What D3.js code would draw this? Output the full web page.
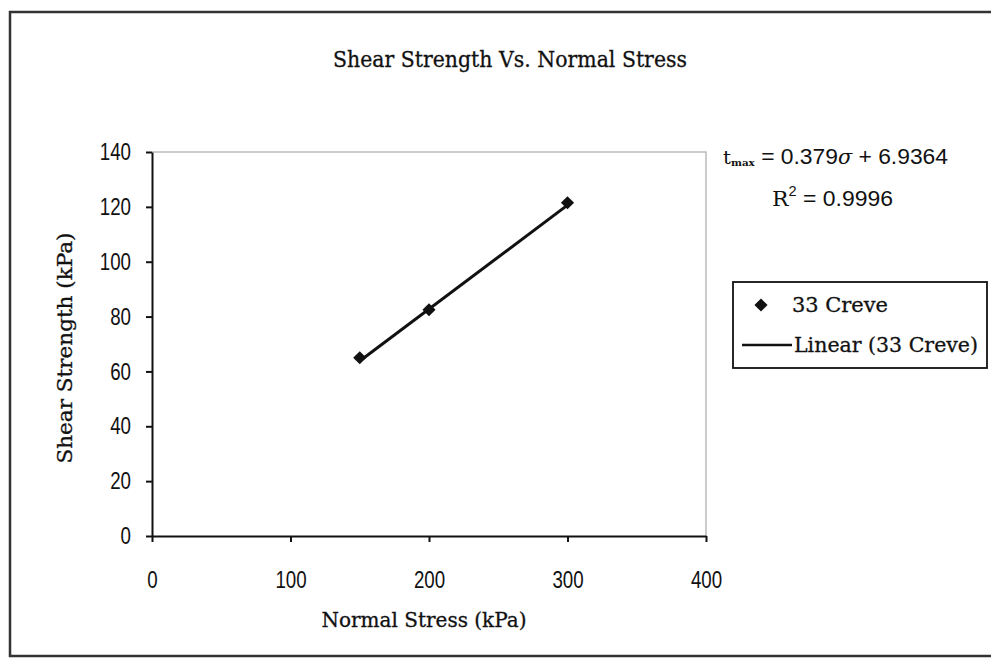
<!DOCTYPE html>
<html><head><meta charset="utf-8">
<script src="https://cdn.jsdelivr.net/npm/d3@7"></script>
<style>
body{margin:0;background:#fff;}
svg{display:block;}
.num{font-family:"Liberation Sans","DejaVu Sans",sans-serif;}
.ser{font-family:"DejaVu Serif","Liberation Serif",serif;}
</style></head>
<body>
<script>
const normalStress = [150, 200, 300];
const shearStrength = [65, 82.5, 121.5];
const xTicks = [0, 100, 200, 300, 400];
const yTicks = [0, 20, 40, 60, 80, 100, 120, 140];
const slope = 0.379, intercept = 6.9364;
const rSquared = 0.9996;
const seriesName = "33 Creve";
const trendName = "Linear (33 Creve)";

const W = 991, H = 662;
const svg = d3.select("body").append("svg").attr("width", W).attr("height", H);
svg.append("rect").attr("width", W).attr("height", H).attr("fill", "#fff");

// outer frame
svg.append("path").attr("d", `M${W+5},12 L10,12 L10,656 L${W+5},656`)
  .attr("fill", "none").attr("stroke", "#333").attr("stroke-width", 2.5);

const L = 152, R = 706, T = 152, B = 536;
const x = d3.scaleLinear().domain([0, 400]).range([L, R]);
const y = d3.scaleLinear().domain([0, 140]).range([B, T]);

// plot area border (gray top/right)
svg.append("path").attr("d", `M${L},${T} L${R},${T} L${R},${B}`)
  .attr("fill", "none").attr("stroke", "#bbb").attr("stroke-width", 1.5);

const SX = 0.78;
const xAxis = svg.append("g").attr("transform", `translate(0,${B})`)
  .call(d3.axisBottom(x).tickValues(xTicks).tickSize(6).tickPadding(46).tickSizeOuter(0));
const yAxis = svg.append("g").attr("transform", `translate(${L},0)`)
  .call(d3.axisLeft(y).tickValues(yTicks).tickSize(6).tickPadding(21).tickSizeOuter(0));
[xAxis, yAxis].forEach(g => {
  g.select(".domain").attr("stroke", "#111").attr("stroke-width", 2);
  g.selectAll(".tick line").attr("stroke", "#111").attr("stroke-width", 2);
  g.selectAll(".tick text").attr("class", "num").attr("font-size", 24).attr("fill", "#111");
});
xAxis.selectAll(".tick text").attr("dy", "0").attr("transform", `scale(${SX},1)`);
yAxis.selectAll(".tick text").attr("x", -21 / SX).attr("transform", `scale(${SX},1)`);

// trendline
const tx = d3.extent(normalStress);
svg.append("line")
  .attr("x1", x(tx[0])).attr("y1", y(slope * tx[0] + intercept))
  .attr("x2", x(tx[1])).attr("y2", y(slope * tx[1] + intercept))
  .attr("stroke", "#111").attr("stroke-width", 3);

const diamond = d3.symbol().type(d3.symbolDiamond2).size(110);
svg.selectAll(".pt").data(normalStress.map((v, i) => [v, shearStrength[i]])).join("path")
  .attr("d", diamond)
  .attr("transform", d => `translate(${x(d[0])},${y(d[1])})`)
  .attr("fill", "#111");

function serText(xp, yp, txt, size, len, anchor) {
  return svg.append("text").attr("class", "ser").attr("x", xp).attr("y", yp)
    .attr("text-anchor", anchor || "start").attr("font-size", size).attr("fill", "#111")
    .attr("stroke", "#111").attr("stroke-width", 0.3)
    .attr("textLength", len).attr("lengthAdjust", "spacingAndGlyphs").text(txt);
}
// title & labels
serText(510, 67, "Shear Strength Vs. Normal Stress", 22, 354, "middle");
serText(424, 627, "Normal Stress (kPa)", 20, 205, "middle");
svg.append("text").attr("class", "ser")
  .attr("transform", `translate(72,348) rotate(-90)`)
  .attr("text-anchor", "middle").attr("font-size", 20).attr("fill", "#111")
  .attr("stroke", "#111").attr("stroke-width", 0.3)
  .attr("textLength", 231).attr("lengthAdjust", "spacingAndGlyphs")
  .text("Shear Strength (kPa)");

// equation
const eq = svg.append("text").attr("class", "num").attr("x", 723).attr("y", 164)
  .attr("font-size", 22).attr("fill", "#111")
  .attr("textLength", 225).attr("lengthAdjust", "spacingAndGlyphs");
eq.append("tspan").attr("class", "ser").attr("font-size", 19).text("t");
eq.append("tspan").attr("class", "ser").attr("font-size", 10).attr("font-weight", "bold").attr("dy", 2).text("max");
eq.append("tspan").attr("dy", -2).text(" = " + slope);
eq.append("tspan").attr("class", "ser").attr("font-style", "italic").attr("font-size", 20).text("σ");
eq.append("tspan").text(" + " + intercept);
const r2 = svg.append("text").attr("class", "num").attr("x", 772).attr("y", 206)
  .attr("font-size", 22).attr("fill", "#111")
  .attr("textLength", 121).attr("lengthAdjust", "spacingAndGlyphs");
r2.append("tspan").attr("class", "ser").attr("font-size", 21).text("R");
r2.append("tspan").attr("font-size", 14).attr("dy", -10).text("2");
r2.append("tspan").attr("dy", 10).text(" = " + rSquared);

// legend
svg.append("rect").attr("x", 733).attr("y", 282).attr("width", 254).attr("height", 86)
  .attr("fill", "#fff").attr("stroke", "#111").attr("stroke-width", 1.8);
svg.append("path").attr("d", diamond).attr("transform", "translate(761,305)").attr("fill", "#111");
serText(792, 312, seriesName, 20, 96);
svg.append("line").attr("x1", 742).attr("x2", 792).attr("y1", 345).attr("y2", 345)
  .attr("stroke", "#111").attr("stroke-width", 2.5);
serText(794, 352, trendName, 20, 184);
</script>
</body></html>
